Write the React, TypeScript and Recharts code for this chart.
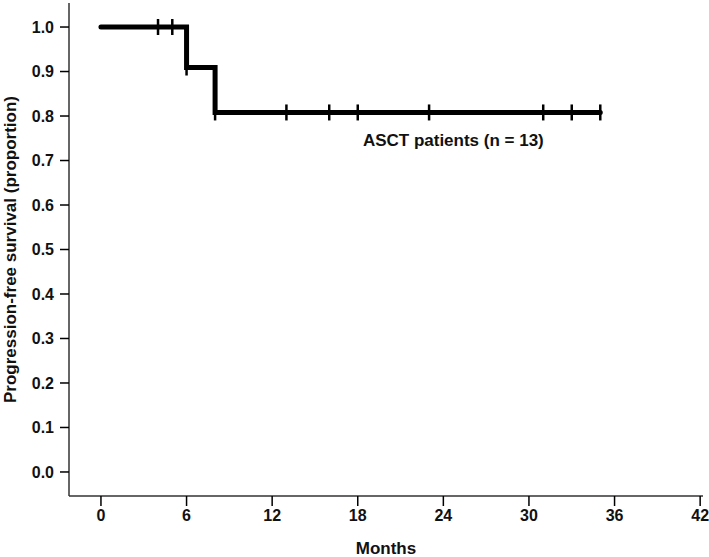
import React from 'react';
import { ComposedChart, Line, Scatter, XAxis, YAxis, ReferenceDot } from 'recharts';

// Kaplan-Meier steps (time in months, survival proportion)
const stepTimes = [0, 6, 8, 35];
const stepSurvival = [1.0, 0.909, 0.808, 0.808];

// censored observations
const censorTimes = [4, 5, 6, 8, 13, 16, 18, 23, 31, 33, 35];
const censorSurvival = [1.0, 1.0, 0.909, 0.808, 0.808, 0.808, 0.808, 0.808, 0.808, 0.808, 0.808];

const xTicks = [0, 6, 12, 18, 24, 30, 36, 42];
const yTicks = [0, 0.1, 0.2, 0.3, 0.4, 0.5, 0.6, 0.7, 0.8, 0.9, 1.0];

const groupLabel = 'ASCT patients (n = 13)';
const labelAt = { t: 24.7, s: 0.746 };

const steps = stepTimes.map((t, i) => ({ t, s: stepSurvival[i] }));
const censors = censorTimes.map((t, i) => ({ t, s: censorSurvival[i] }));

const font = '"Liberation Sans", Arial, sans-serif';
const tickStyle = { fontFamily: font, fontSize: 16, fontWeight: 700, fill: '#111' };
const titleStyle = { fontFamily: font, fontSize: 17, fontWeight: 700, fill: '#111' };
const frame = '#333';

const CensorMark = (props: any) => {
    const { cx, cy } = props;
    return <line x1={cx} x2={cx} y1={cy - 8} y2={cy + 8} stroke="#000" strokeWidth={2.5} />;
};

export default function App() {
    return (
        <div style={{ position: 'absolute', left: 0, top: 0, width: 709, height: 557, background: '#fff' }}>
            <ComposedChart width={709} height={557} margin={{ top: 3, right: 6, bottom: 0, left: 0 }}>
                <XAxis
                    dataKey="t"
                    type="number"
                    domain={[-2.24, 42.2]}
                    ticks={xTicks}
                    allowDataOverflow
                    tick={tickStyle}
                    tickSize={10}
                    tickMargin={4}
                    height={61}
                    axisLine={{ stroke: frame, strokeWidth: 1.5 }}
                    tickLine={{ stroke: '#000', strokeWidth: 1.5 }}
                    label={{ value: 'Months', position: 'insideBottom', offset: 3, style: titleStyle }}
                />
                <XAxis xAxisId="top" orientation="top" type="number" domain={[-2.24, 42.2]} tick={false} tickLine={false} height={0} axisLine={{ stroke: frame, strokeWidth: 1.5 }} />
                <YAxis
                    type="number"
                    domain={[-0.054, 1.054]}
                    ticks={yTicks}
                    allowDataOverflow
                    tickFormatter={(v: number) => v.toFixed(1)}
                    tick={tickStyle}
                    tickSize={9}
                    tickMargin={6}
                    width={69}
                    axisLine={{ stroke: frame, strokeWidth: 1.5 }}
                    tickLine={{ stroke: '#000', strokeWidth: 1.5 }}
                    label={{ value: 'Progression-free survival (proportion)', angle: -90, position: 'insideLeft', offset: 10, style: { ...titleStyle, textAnchor: 'middle' } }}
                />
                <YAxis yAxisId="right" orientation="right" type="number" domain={[-0.054, 1.054]} tick={false} tickLine={false} width={0} axisLine={{ stroke: frame, strokeWidth: 1.5 }} />
                <Line
                    data={steps}
                    dataKey="s"
                    type="stepAfter"
                    stroke="#000"
                    strokeWidth={5}
                    strokeLinecap="round"
                    dot={false}
                    activeDot={false}
                    isAnimationActive={false}
                />
                <Scatter data={censors} dataKey="s" shape={CensorMark} isAnimationActive={false} />
                <ReferenceDot
                    x={labelAt.t}
                    y={labelAt.s}
                    r={0}
                    fill="none"
                    stroke="none"
                    label={{ value: groupLabel, position: 'center', style: titleStyle }}
                />
            </ComposedChart>
        </div>
    );
}
